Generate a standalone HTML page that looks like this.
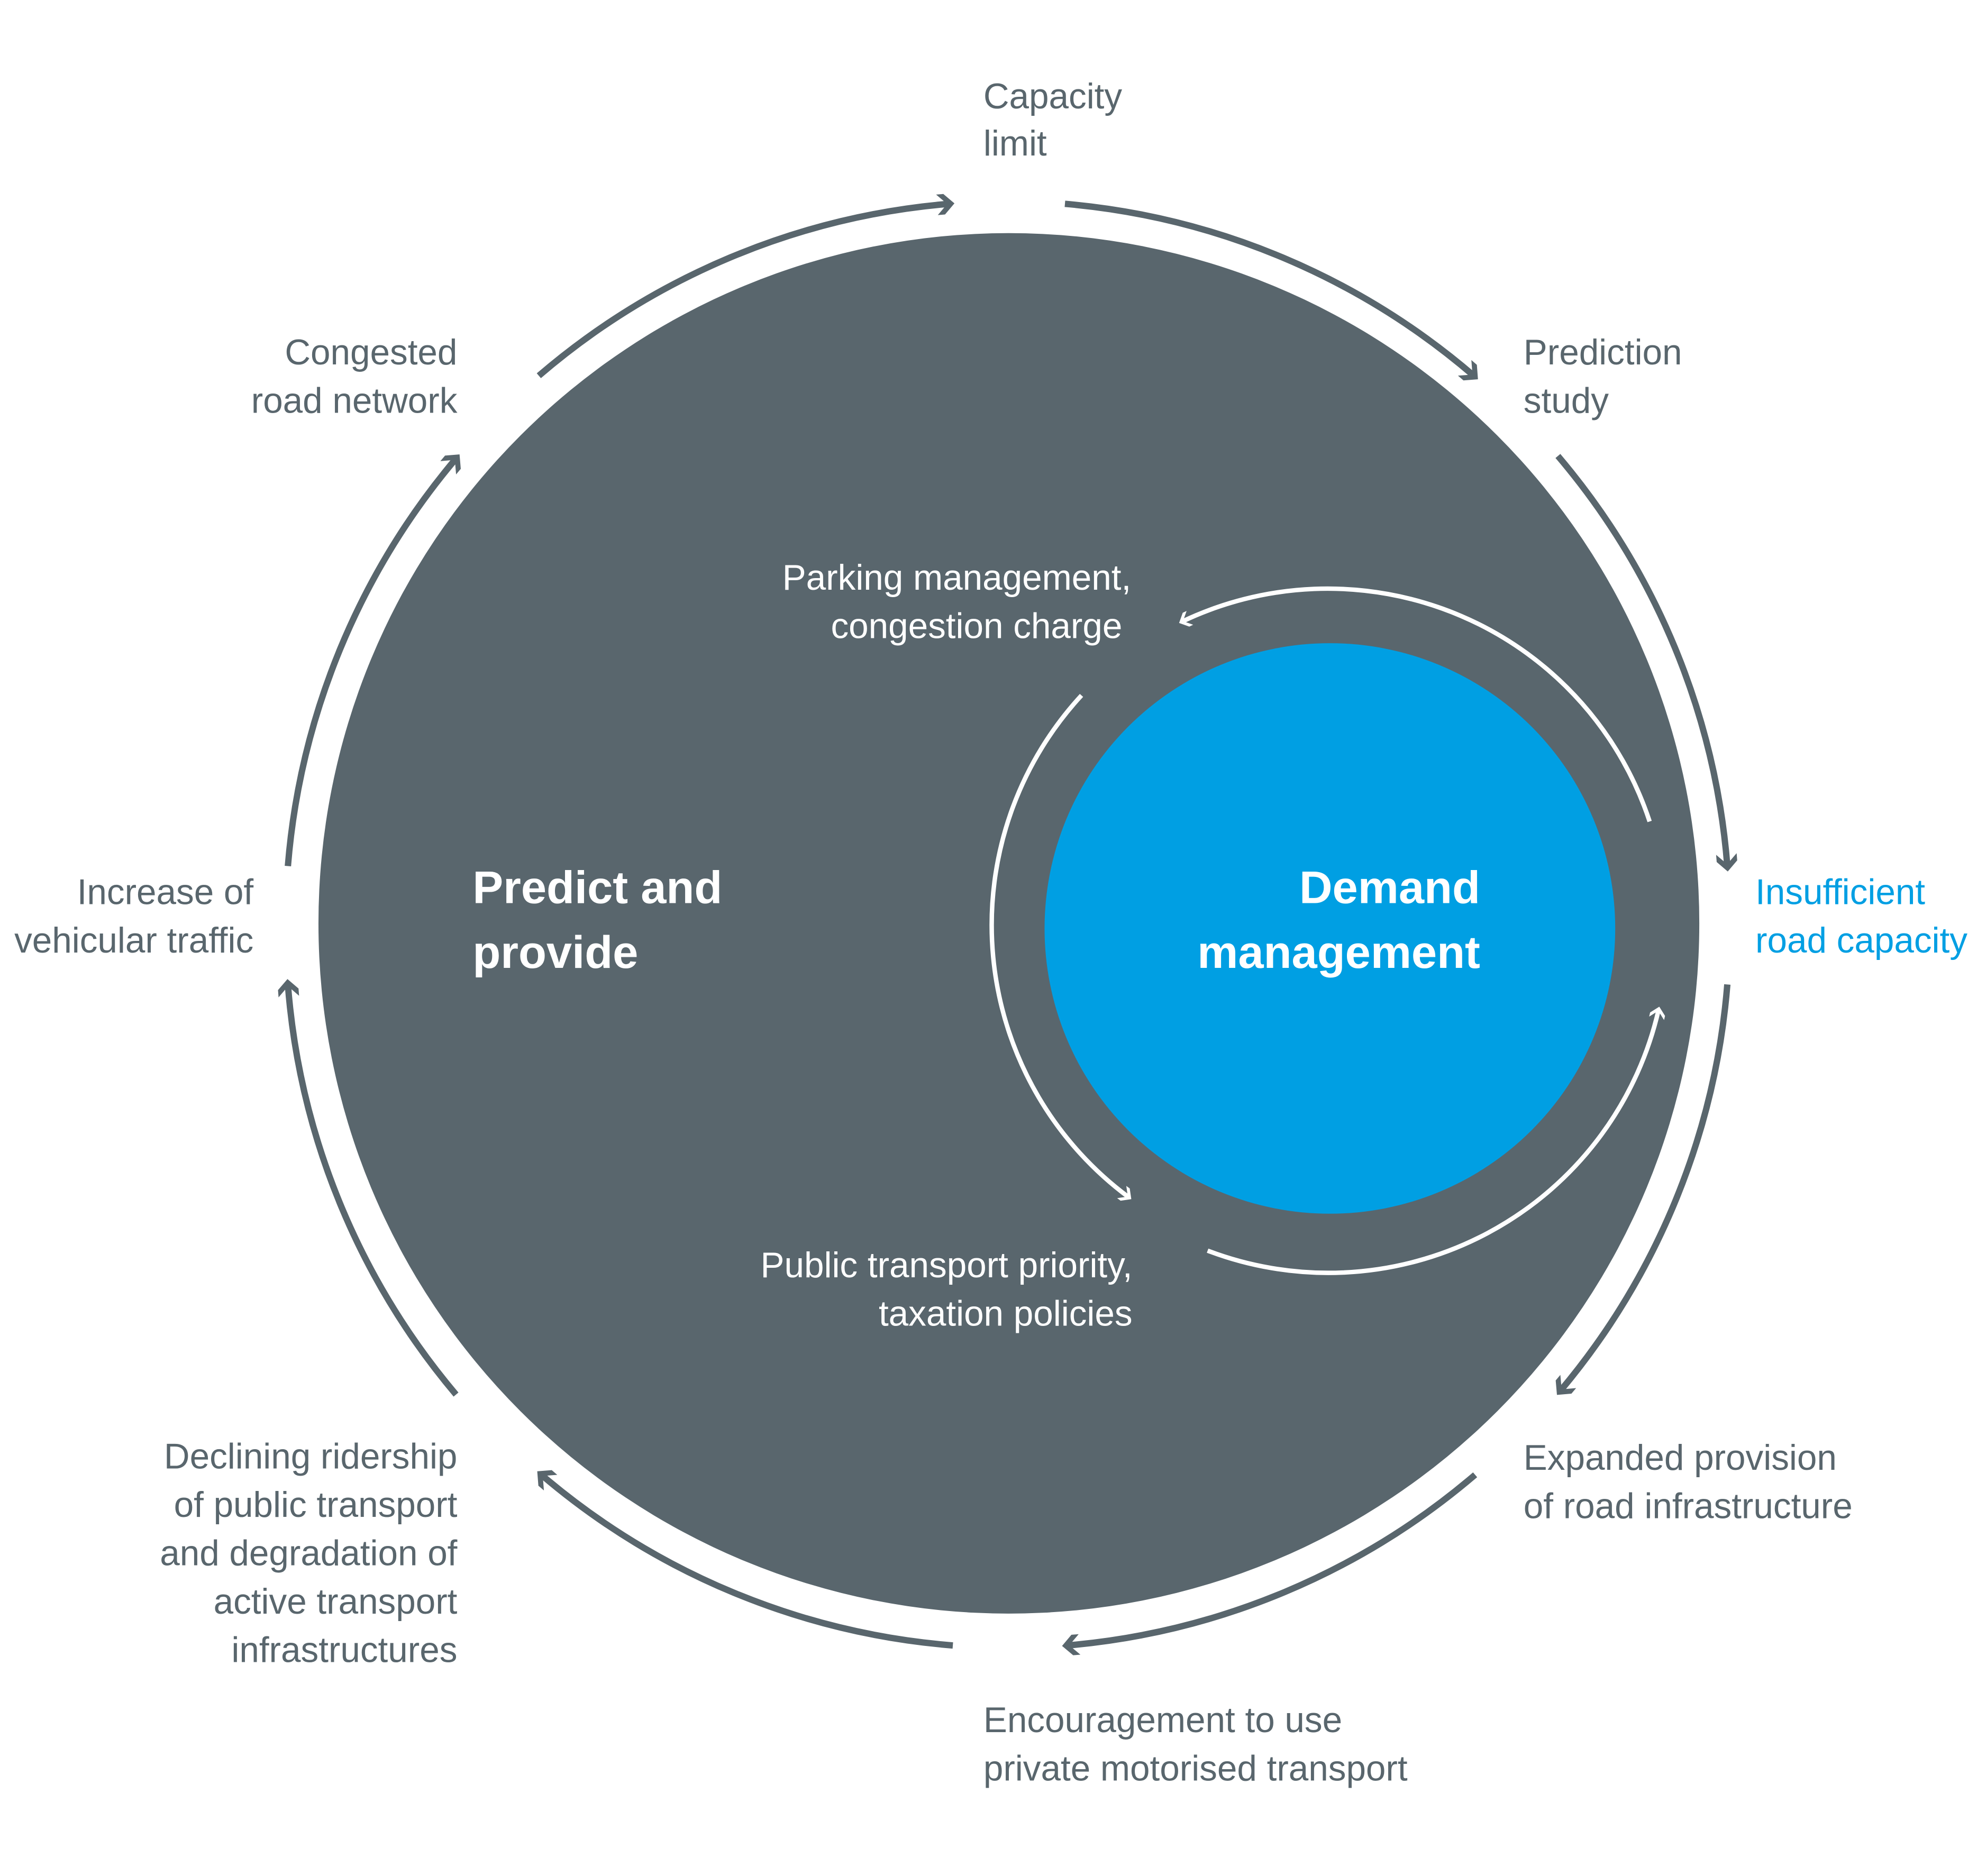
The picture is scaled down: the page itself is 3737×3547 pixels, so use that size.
<!DOCTYPE html>
<html><head><meta charset="utf-8"><style>
html,body{margin:0;padding:0;background:#fff}
svg{display:block}
text{font-family:"Liberation Sans",sans-serif;font-size:28px;fill:#59666d}
.w{fill:#fff}
.b{font-weight:bold;font-size:36px;fill:#fff}
.bl{fill:#009fe3}
</style></head><body>
<svg width="3737" height="3547" viewBox="0 0 1552 1473" xmlns="http://www.w3.org/2000/svg">
<defs>
<marker id="ag" viewBox="0 0 20 20" refX="13" refY="10" markerWidth="19" markerHeight="19" markerUnits="userSpaceOnUse" orient="auto">
<path d="M3,1.5 L9,1.5 L17.5,10 L9,18.5 L3,18.5 L11.5,10 Z" fill="#59666d"/>
</marker>
<marker id="aw" viewBox="0 0 20 20" refX="13" refY="10" markerWidth="15" markerHeight="15" markerUnits="userSpaceOnUse" orient="auto">
<path d="M4,2 L8.5,2 L16.5,10 L8.5,18 L4,18 L12,10 Z" fill="#fff"/>
</marker>
</defs>
<circle cx="792" cy="725" r="542" fill="#59666d"/>
<circle cx="1044" cy="729" r="224" fill="#009fe3"/>
<g fill="none" stroke="#59666d" stroke-width="5" marker-end="url(#ag)">
<path d="M423,295 A567,567 0 0 1 745,160"/>
<path d="M836,160 A567,567 0 0 1 1157,295"/>
<path d="M1223,358 A567,567 0 0 1 1356,680"/>
<path d="M1356,773 A567,567 0 0 1 1225,1092"/>
<path d="M1158,1158 A567,567 0 0 1 838,1292"/>
<path d="M748,1292 A567,567 0 0 1 425,1158"/>
<path d="M358,1095 A567,567 0 0 1 226,773"/>
<path d="M226,680 A567,567 0 0 1 358,360"/>
</g>
<g fill="none" stroke="#fff" stroke-width="3.5" marker-end="url(#aw)">
<path d="M1295,645 A266,266 0 0 0 928,488"/>
<path d="M849,546 A266,266 0 0 0 886,940"/>
<path d="M948,982 A266,266 0 0 0 1302,793"/>
</g>
<text x="772" y="85">Capacity</text><text x="772" y="122">limit</text>
<text x="1196" y="286">Prediction</text><text x="1196" y="324">study</text>
<text class="bl" x="1378" y="710">Insufficient</text><text class="bl" x="1378" y="748">road capacity</text>
<text x="1196" y="1154">Expanded provision</text><text x="1196" y="1192">of road infrastructure</text>
<text x="772" y="1360">Encouragement to use</text><text x="772" y="1398">private motorised transport</text>
<g text-anchor="end">
<text x="359" y="1153">Declining ridership</text>
<text x="359" y="1191">of public transport</text>
<text x="359" y="1229">and degradation of</text>
<text x="359" y="1267">active transport</text>
<text x="359" y="1305">infrastructures</text>
<text x="199" y="710">Increase of</text><text x="199" y="748">vehicular traffic</text>
<text x="359" y="286">Congested</text><text x="359" y="324">road network</text>
<text class="w" x="888" y="463">Parking management,</text><text class="w" x="881" y="501">congestion charge</text>
<text class="w" x="889" y="1003">Public transport priority,</text><text class="w" x="889" y="1041">taxation policies</text>
<text class="b" x="1162" y="709">Demand</text><text class="b" x="1162" y="760">management</text>
</g>
<text class="b" x="371" y="709">Predict and</text><text class="b" x="371" y="760">provide</text>
</svg>
</body></html>
